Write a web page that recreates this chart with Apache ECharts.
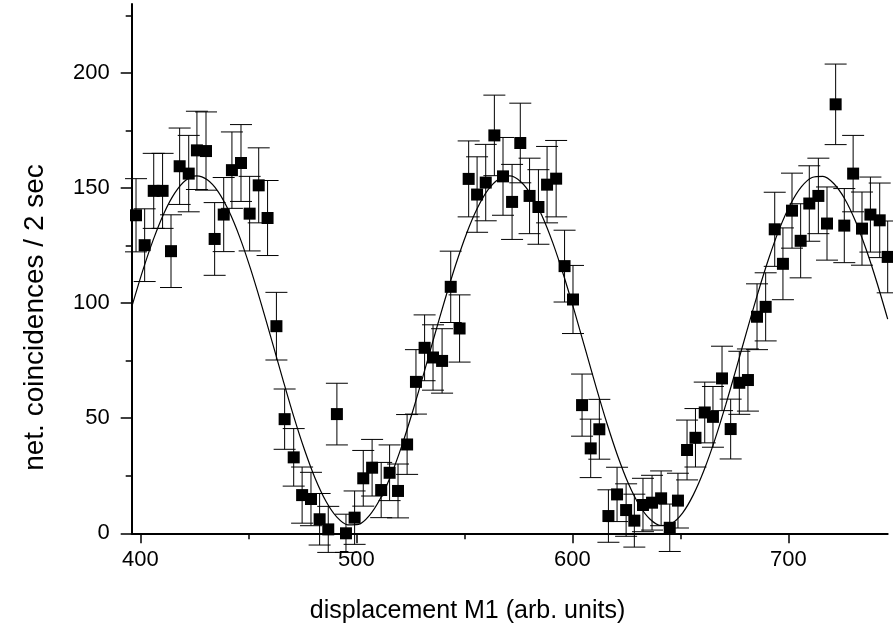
<!DOCTYPE html>
<html><head><meta charset="utf-8">
<script src="https://cdn.jsdelivr.net/npm/echarts@6/dist/echarts.min.js"></script>
<style>html,body{margin:0;padding:0;background:#fff}#c{width:893px;height:633px}</style>
</head><body><div id="c"></div>
<script>
const xPos = [398,402,406.2,410.3,414.2,418.2,422.4,426.2,430.4,434.4,438.6,442.4,446.6,450.6,454.8,458.9,463,466.8,471,474.9,479,483,487,491,495.2,499.2,503.2,507.3,511.5,515.4,519.3,523.5,527.6,531.6,535.5,539.7,543.7,547.8,552,555.9,559.9,563.9,567.9,572.1,575.9,580.2,584.3,588.3,592.5,596.4,600.3,604.5,608.5,612.5,616.7,620.7,624.9,628.7,632.7,636.9,641.1,645.1,648.9,653.1,657,661.3,665.1,669.3,673.3,677.3,681.3,685.5,689.5,693.7,697.5,701.7,705.7,709.7,713.9,717.9,721.9,725.9,730,734.1,738,742.3,746];
const yVal = [138.2,125.2,148.8,148.8,122.6,159.5,156.3,166.4,166.1,127.9,138.5,157.8,160.9,138.9,151.2,137,90,49.6,33,16.6,14.9,6.1,1.7,51.8,0,6.8,23.9,28.5,18.8,26.3,18.4,38.6,65.8,80.6,76.4,74.9,107.1,89,154,147.2,152.4,172.9,155.1,144,169.6,146.6,141.8,151.5,154.1,116.1,101.6,55.7,36.9,45.2,7.5,16.9,10.1,5.5,12.3,13.3,15.2,2.4,14.2,36.2,41.5,52.5,50.6,67.3,45.3,65.4,66.6,94.1,98.4,132.1,117.1,140.2,127.1,143.3,146.6,134.6,186.4,133.7,156.3,132.4,138.5,136,120.1];
const yErr = [15.9,15.8,16.3,16.3,15.8,16.6,16.6,17,17,15.8,16.1,16.6,16.7,16.2,16.3,16.3,14.7,13.1,12.5,12.2,11.6,11.2,10,13.4,8.3,11.6,12.1,12.3,12,12.1,11.7,13,14,14.3,14.2,14,15.5,14.6,16.5,16.4,16.6,17.5,16.9,16.3,17.3,16.4,16.2,16.6,16.6,15.6,14.8,13.5,12.7,13,11.4,11.8,11.4,11.5,11.6,11.9,11.9,10.3,11.9,13,12.7,13.2,13.2,14,13,13.7,13.5,14.3,14.8,16.1,15.6,16.3,16.1,16.4,16.4,15.9,17.5,16.1,16.6,15.9,16.3,16.2,15.6];
const fitX = [396,401,406,411,416,421,426,431,436,441,446,451,456,461,466,471,476,481,486,491,496,501,506,511,516,521,526,531,536,541,546,551,556,561,566,571,576,581,586,591,596,601,606,611,616,621,626,631,636,641,646,651,656,661,666,671,676,681,686,691,696,701,706,711,716,721,726,731,736,741,746];
const fitY = [98.3,113.8,127.6,139.2,147.9,153.4,155.3,153.6,148.5,140.0,128.7,115.0,99.6,83.3,66.8,50.8,36.3,23.7,13.8,7.0,3.7,3.9,7.7,14.9,25.1,37.9,52.7,68.7,85.3,101.5,116.7,130.2,141.2,149.3,154.0,155.3,152.9,147.0,137.9,126.1,112.0,96.4,80.0,63.5,47.8,33.6,21.5,12.2,6.1,3.4,4.3,8.8,16.7,27.5,40.7,55.8,72.0,88.6,104.7,119.6,132.6,143.0,150.5,154.6,155.1,152.0,145.5,135.8,123.4,109.0,93.1];
const xMajor = [400,500,600,700];
const xMinor = [450,550,650];
const yMajor = [0,50,100,150,200];
const yMinor = [25,75,125,175,225];
const xTitle = 'displacement M1 (arb. units)';
const yTitle = 'net. coincidences / 2 sec';

const FONT = '"Liberation Sans", Arial, sans-serif';
const points = xPos.map((x,i)=>[x, yVal[i], yErr[i]]);
const fit = fitX.map((x,i)=>[x, fitY[i]]);

const chart = echarts.init(document.getElementById('c'));
const axisBase = {
  type:'value', splitLine:{show:false}
};
chart.setOption({
  animation:false,
  backgroundColor:'#fff',
  grid:{left:131.7, right:5.3, top:4, bottom:99.7, containLabel:false, outerBoundsMode:'none'},
  xAxis:[
    Object.assign({}, axisBase, {min:396, max:746, position:'bottom',
      axisLine:{onZero:false, lineStyle:{color:'#000', width:2}},
      axisTick:{customValues:xMajor, length:10, lineStyle:{color:'#000', width:1.5}},
      axisLabel:{customValues:xMajor, fontSize:22, color:'#000', margin:16, fontFamily:FONT}}),
    Object.assign({}, axisBase, {min:396, max:746, position:'bottom',
      axisLine:{show:false, onZero:false},
      axisTick:{customValues:xMinor, length:6, lineStyle:{color:'#000', width:1.5}},
      axisLabel:{show:false}})
  ],
  yAxis:[
    Object.assign({}, axisBase, {min:0, max:230, position:'left',
      axisLine:{show:true, onZero:false, lineStyle:{color:'#000', width:2}},
      axisTick:{show:true, customValues:yMajor, length:11, lineStyle:{color:'#000', width:1.5}},
      axisLabel:{customValues:yMajor, fontSize:22, color:'#000', margin:22, fontFamily:FONT}}),
    Object.assign({}, axisBase, {min:0, max:230, position:'left',
      axisLine:{show:false, onZero:false},
      axisTick:{show:true, customValues:yMinor, length:6, lineStyle:{color:'#000', width:1.5}},
      axisLabel:{show:false}})
  ],
  graphic:[
    {type:'text', x:467.5, y:611, style:{text:xTitle, font:'25px '+FONT, fill:'#000', textAlign:'center', textVerticalAlign:'middle'}},
    {type:'text', x:35, y:317.5, rotation:Math.PI/2, style:{text:yTitle, font:'28px '+FONT, fill:'#000', textAlign:'center', textVerticalAlign:'middle'}}
  ],
  series:[
    {type:'custom', xAxisIndex:0, yAxisIndex:0, clip:false, z:2,
     data:points,
     renderItem:function(params, api){
       const x = api.value(0), y = api.value(1), e = api.value(2);
       const t = api.coord([x, y+e]), b = api.coord([x, y-e]);
       const hw = 11;
       const st = {stroke:'#000', lineWidth:1};
       return {type:'group', children:[
         {type:'line', shape:{x1:t[0], y1:t[1], x2:b[0], y2:b[1]}, style:st},
         {type:'line', shape:{x1:t[0]-hw, y1:t[1], x2:t[0]+hw, y2:t[1]}, style:st},
         {type:'line', shape:{x1:b[0]-hw, y1:b[1], x2:b[0]+hw, y2:b[1]}, style:st}
       ]};
     }},
    {type:'line', xAxisIndex:0, yAxisIndex:0, data:fit, smooth:0.3, showSymbol:false, symbol:'none', clip:false, z:3,
     lineStyle:{color:'#000', width:1.2}},
    {type:'scatter', xAxisIndex:0, yAxisIndex:0, data:points.map(p=>[p[0],p[1]]), symbol:'rect', symbolSize:12, clip:false, z:4,
     itemStyle:{color:'#000', opacity:1}}
  ]
});
</script></body></html>
